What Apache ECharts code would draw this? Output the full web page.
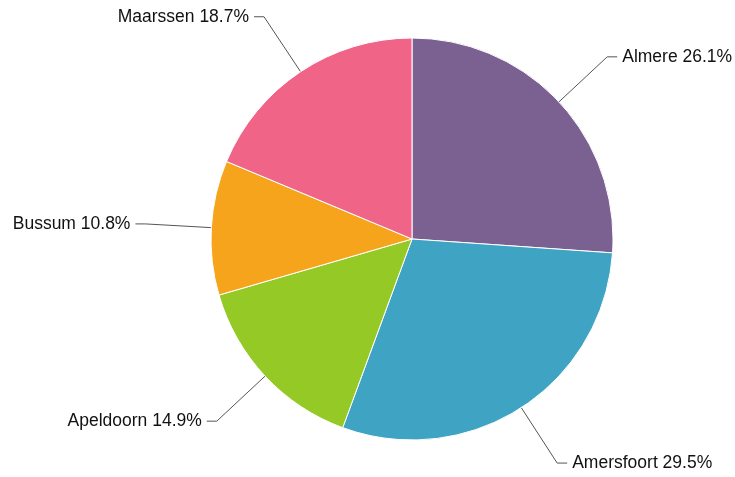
<!DOCTYPE html>
<html>
<head>
<meta charset="utf-8">
<script src="https://cdn.jsdelivr.net/npm/echarts@6/dist/echarts.min.js"></script>
<style>
html, body { margin: 0; padding: 0; background: #fff; }
#chart { width: 735px; height: 477px; }
</style>
</head>
<body>
<div id="chart"></div>
<script>
const categories = ['Almere', 'Amersfoort', 'Apeldoorn', 'Bussum', 'Maarssen'];
const values = [26.1, 29.5, 14.9, 10.8, 18.7];
const colors = ['#7b6192', '#3fa3c3', '#94c926', '#f5a41b', '#f06587'];

const chart = echarts.init(document.getElementById('chart'));
chart.setOption({
    animation: false,
    series: [
        {
            type: 'pie',
            center: [412, 239],
            radius: 201,
            startAngle: 90,
            clockwise: true,
            data: categories.map((name, i) => ({
                name: name,
                value: values[i],
                itemStyle: { color: colors[i] }
            })),
            itemStyle: { borderColor: '#fff', borderWidth: 1 },
            label: {
                formatter: p => p.name + ' ' + p.value.toFixed(1) + '%',
                fontFamily: 'Liberation Sans, Arial, sans-serif',
                fontSize: 17.5,
                color: '#111',
                overflow: 'none',
                padding: [4, 0, 0, 0],
                distanceToLabelLine: 5
            },
            labelLine: {
                length: 66,
                length2: 10,
                lineStyle: { color: '#555', width: 1 }
            }
        }
    ]
});
</script>
</body>
</html>
